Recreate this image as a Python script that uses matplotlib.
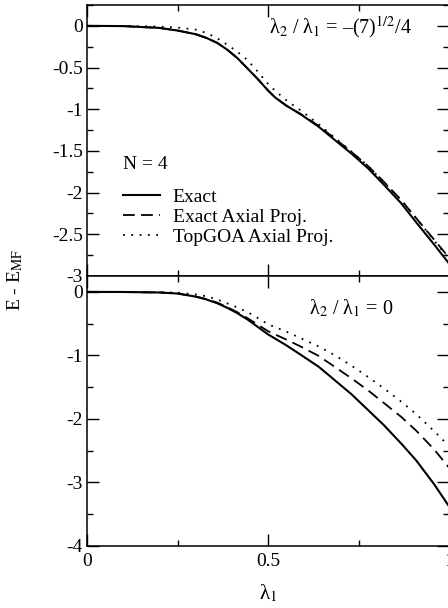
import matplotlib
matplotlib.use("Agg")
import matplotlib.pyplot as plt
from matplotlib.ticker import MultipleLocator

plt.rcParams['font.family'] = ['Liberation Serif', 'DejaVu Serif']
plt.rcParams['mathtext.fontset'] = 'stix'
plt.rcParams['axes.unicode_minus'] = False

# upper panel: lambda2/lambda1 = -(7)^(1/2)/4
lam_top = [0, 0.1, 0.2, 0.25, 0.3, 0.33, 0.36, 0.387, 0.415, 0.442, 0.47, 0.5, 0.52, 0.55,
           0.592, 0.64, 0.684, 0.73, 0.776, 0.82, 0.868, 0.91, 0.96, 1.0]
exact_top = [0, -0.003, -0.025, -0.056, -0.1, -0.145, -0.205, -0.285, -0.385, -0.505, -0.63, -0.775,
             -0.86, -0.955, -1.066, -1.21, -1.367, -1.53, -1.707, -1.905, -2.128, -2.36, -2.628, -2.85]
axial_top = [0, -0.003, -0.025, -0.056, -0.1, -0.145, -0.205, -0.285, -0.385, -0.505, -0.63, -0.775,
             -0.86, -0.955, -1.062, -1.2, -1.35, -1.51, -1.68, -1.87, -2.09, -2.31, -2.57, -2.78]
topgoa_top = [0, -0.001, -0.008, -0.02, -0.045, -0.085, -0.15, -0.225, -0.31, -0.405, -0.54, -0.695,
              -0.78, -0.89, -1.02, -1.18, -1.34, -1.505, -1.68, -1.875, -2.09, -2.31, -2.58, -2.79]

# lower panel: lambda2/lambda1 = 0
lam_bot = [0, 0.1, 0.2, 0.25, 0.3, 0.33, 0.36, 0.387, 0.415, 0.442, 0.47, 0.5, 0.55,
           0.592, 0.64, 0.684, 0.73, 0.776, 0.82, 0.868, 0.91, 0.96, 1.0]
exact_bot = [0, -0.002, -0.01, -0.026, -0.075, -0.12, -0.18, -0.25, -0.335, -0.43, -0.545, -0.67,
             -0.84, -0.997, -1.18, -1.39, -1.61, -1.86, -2.1, -2.39, -2.66, -3.04, -3.38]
axial_bot = [0, -0.002, -0.01, -0.026, -0.072, -0.115, -0.17, -0.24, -0.32, -0.41, -0.51, -0.62,
             -0.75, -0.866, -1.01, -1.18, -1.36, -1.55, -1.75, -1.97, -2.19, -2.49, -2.77]
topgoa_bot = [0, -0.001, -0.005, -0.012, -0.04, -0.07, -0.12, -0.18, -0.245, -0.315, -0.405, -0.51,
              -0.625, -0.735, -0.86, -0.997, -1.16, -1.34, -1.52, -1.73, -1.93, -2.2, -2.43]

labels = ["Exact", "Exact Axial Proj.", "TopGOA Axial Proj."]

fig = plt.figure(figsize=(4.48, 6.08), dpi=100)
L, W = 87/448, 362/448
ax1 = fig.add_axes([L, 1-276/608, W, 271/608])
ax2 = fig.add_axes([L, 1-545.7/608, W, 269.7/608])

dash = (0, (6.5, 3.5))
dots = (0, (1, 3.6))
for ax, lam, ex, ax_p, tg in [(ax1, lam_top, exact_top, axial_top, topgoa_top),
                              (ax2, lam_bot, exact_bot, axial_bot, topgoa_bot)]:
    ax.plot(lam, ex, color="black", lw=1.5, ls="-", label=labels[0])
    ax.plot(lam, ax_p, color="black", lw=1.3, ls=dash, label=labels[1])
    ax.plot(lam, tg, color="black", lw=1.3, ls=dots, label=labels[2])
    ax.set_xlim(0, 1)
    ax.xaxis.set_major_locator(MultipleLocator(0.5))
    ax.xaxis.set_minor_locator(MultipleLocator(0.25))
    ax.tick_params(which="both", direction="in", top=True, right=True, labelsize=14, width=1.0)
    ax.tick_params(which="major", length=8.6)
    ax.tick_params(which="minor", length=4.3)
    ax.tick_params(axis="x", pad=5)
    ax.tick_params(axis="y", pad=3)
    for s in ax.spines.values():
        s.set_linewidth(1.1)

ax1.set_ylim(-3, 0.25)
ax1.set_yticks([0, -0.5, -1, -1.5, -2, -2.5, -3])
ax1.set_yticklabels(["0", "-0.5", "-1", "-1.5", "-2", "-2.5", "-3"])
ax1.yaxis.set_minor_locator(MultipleLocator(0.25))
ax1.tick_params(axis="x", labelbottom=False)

ax2.set_ylim(-4, 0.25)
ax2.set_yticks([0, -1, -2, -3, -4])
ax2.yaxis.set_minor_locator(MultipleLocator(0.5))
ax2.set_xticks([0, 0.5, 1])
ax2.set_xticklabels(["0", "0.5", "1"])

ax1.text(0.70, -0.015, "λ$_2$ / λ$_1$ = –(7)$^{1/2}$/4", ha="center", va="center", fontsize=14.5)
ax2.text(0.729, -0.257, "λ$_2$ / λ$_1$ = 0", ha="center", va="center", fontsize=14.5)

ax1.text(0.0994, -1.667, "N = 4", ha="left", va="center", fontsize=14)
ax1.legend(loc="center left", bbox_to_anchor=(0.0994, 0.218), frameon=False, fontsize=14,
           borderpad=0, borderaxespad=0, handlelength=1.9, handletextpad=0.65, labelspacing=0.12)

fig.text(268/448, 1-593/608, "λ$_1$", ha="center", va="center", fontsize=15)
fig.text(15/448, 1-280/608, "E - E$_{\\mathrm{MF}}$", ha="center", va="center", rotation=90, fontsize=14)

fig.savefig("out.png", dpi=100)
